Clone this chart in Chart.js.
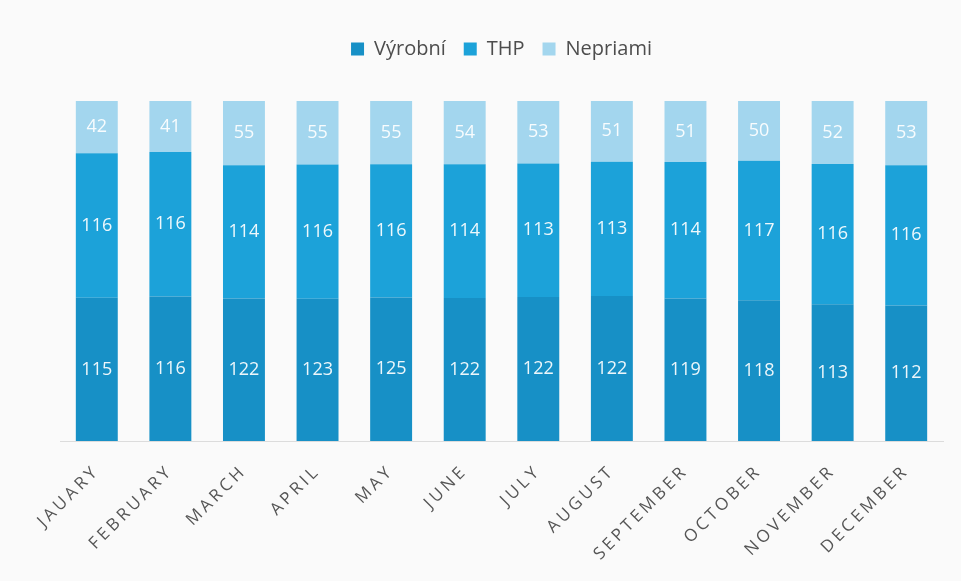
<!DOCTYPE html>
<html>
<head>
<meta charset="utf-8">
<script src="https://cdn.jsdelivr.net/npm/chart.js@4/dist/chart.umd.min.js"></script>
<style>
  html, body { margin: 0; padding: 0; background: #fafafa; }
  #wrap { width: 961px; height: 581px; position: relative; }
</style>
</head>
<body>
<div id="wrap"><canvas id="c" width="961" height="581"></canvas></div>
<script>
const months = ['JAUARY','FEBRUARY','MARCH','APRIL','MAY','JUNE','JULY','AUGUST','SEPTEMBER','OCTOBER','NOVEMBER','DECEMBER'];
const seriesNames = ['Výrobní','THP','Nepriami'];
const vyrobni  = [115,116,122,123,125,122,122,122,119,118,113,112];
const thp      = [116,116,114,116,116,114,113,113,114,117,116,116];
const nepriami = [42,41,55,55,55,54,53,51,51,50,52,53];

const raw = [vyrobni, thp, nepriami];
const totals = months.map((_, i) => vyrobni[i] + thp[i] + nepriami[i]);
const pct = arr => arr.map((v, i) => v / totals[i] * 100);
const colors = ['#1790c6', '#1ca2d9', '#a3d6ee'];

const valueLabels = {
  id: 'valueLabels',
  afterDatasetsDraw(chart) {
    const ctx = chart.ctx;
    ctx.save();
    ctx.font = '18px "Open Sans"';
    ctx.fillStyle = 'rgba(255,255,255,0.92)';
    ctx.textAlign = 'center';
    ctx.textBaseline = 'middle';
    chart.data.datasets.forEach((ds, di) => {
      const meta = chart.getDatasetMeta(di);
      meta.data.forEach((bar, i) => {
        const y = (bar.y + bar.base) / 2;
        ctx.fillText(String(raw[di][i]), bar.x, y);
      });
    });
    ctx.restore();
  }
};

const legendGap = {
  id: 'legendGap',
  beforeInit(chart) {
    const f = chart.legend.fit;
    chart.legend.fit = function () {
      f.call(this);
      this.height += 32;
    };
  }
};

const chart = new Chart(document.getElementById('c'), {
  type: 'bar',
  data: {
    labels: months,
    datasets: seriesNames.map((n, k) => ({
      label: n,
      data: pct(raw[k]),
      backgroundColor: colors[k],
      borderWidth: 0,
      barPercentage: 0.57,
      categoryPercentage: 1.0
    }))
  },
  options: {
    responsive: false,
    animation: false,
    layout: { padding: { left: 60, right: 18, top: 21, bottom: 0 } },
    plugins: {
      legend: {
        position: 'top',
        labels: {
          font: { family: '"Open Sans"', size: 20 },
          color: '#4d4d4d',
          boxWidth: 13,
          boxHeight: 13,
          padding: 18
        }
      },
      tooltip: { enabled: false }
    },
    scales: {
      x: {
        stacked: true,
        grid: { display: false, drawTicks: false },
        border: { display: true, color: '#dcdcdc', width: 1 },
        ticks: {
          font: { family: '"Open Sans"', size: 17 },
          color: '#555',
          maxRotation: 45,
          minRotation: 45,
          padding: 20
        },
        afterFit(scale) { scale.height = 140; }
      },
      y: {
        stacked: true,
        min: 0,
        max: 100,
        display: false
      }
    }
  },
  plugins: [valueLabels, legendGap]
});

const xs = chart.scales.x;
const origDrawLabels = xs.drawLabels;
xs.drawLabels = function (area) {
  this.ctx.save();
  this.ctx.letterSpacing = '3.5px';
  origDrawLabels.call(this, area);
  this.ctx.restore();
};
chart.draw();
</script>
</body>
</html>
